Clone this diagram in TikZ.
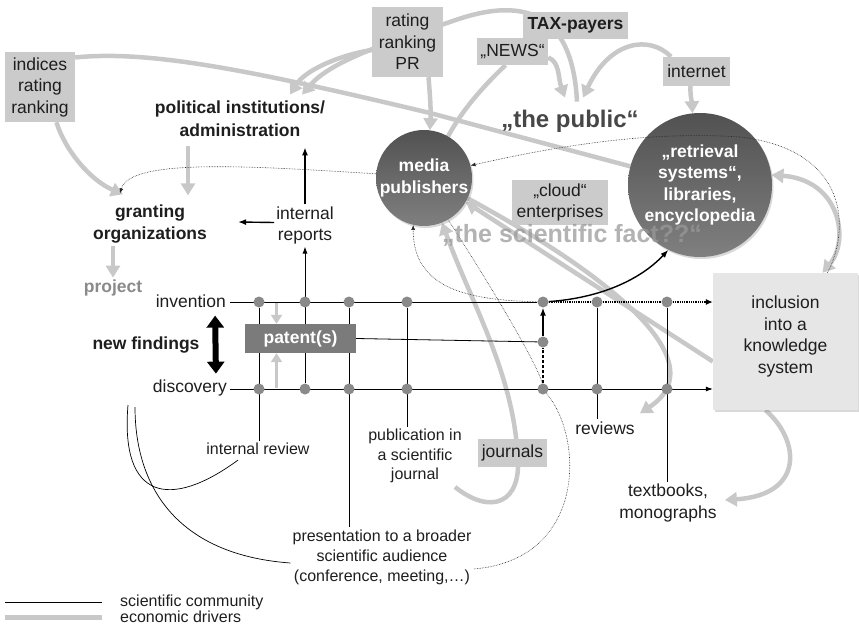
\documentclass[tikz,border=0pt]{standalone}
\usepackage{fontspec}
\setmainfont{Liberation Sans}
\usetikzlibrary{arrows.meta,shadows}

\definecolor{ecogray}{HTML}{C8C8C8}
\definecolor{boxgray}{HTML}{CBCBCB}
\definecolor{inclgray}{HTML}{E6E6E6}
\definecolor{dotgray}{HTML}{8A8A8A}
\definecolor{patgray}{HTML}{7B7B7B}
\definecolor{txtgray}{HTML}{1E1E1E}

\pgfdeclarelayer{eco}
\pgfdeclarelayer{sci}
\pgfdeclarelayer{top}
\pgfsetlayers{eco,sci,main,top}

\tikzset{
  txt/.style={font=\fontsize{17.5}{21.5}\selectfont, text=txtgray, align=center, inner sep=2pt},
  smalltxt/.style={txt, font=\fontsize{16}{19.5}\selectfont},
  boldtxt/.style={txt, font=\fontsize{17.5}{22.5}\selectfont\bfseries},
  graybox/.style={txt, fill=boxgray, inner sep=0pt},
  hub/.style={circle, inner sep=0pt, top color=black!68, bottom color=black!50,
    drop shadow={shadow xshift=1.5pt, shadow yshift=-2pt, opacity=.3},
    text=white, align=center, font=\fontsize{17.5}{21.5}\selectfont\bfseries},
  gridpt/.style={circle, fill=dotgray, minimum size=11pt, inner sep=0pt},
  econ/.style={draw=ecogray, line width=4.5pt},
  econarrow/.style={econ, -{Triangle[length=12pt,width=14pt]}},
  econsmall/.style={draw=ecogray, line width=3.5pt, -{Triangle[length=9pt,width=11pt]}},
  scline/.style={draw=black, line width=.8pt},
  scarrow/.style={scline, -{Latex[length=7pt,width=5pt]}},
  scthick/.style={draw=black, line width=1.4pt, -{Latex[length=8pt,width=6pt]}},
  scdotted/.style={draw=black!85, line width=.6pt, densely dotted, -{Latex[length=5pt,width=4pt]}},
}

\begin{document}
\begin{tikzpicture}[x=1pt,y=-1pt]
\useasboundingbox (0,0) rectangle (859,626);

    %% Gray boxes
    \node[graybox, minimum width=70pt, minimum height=70pt] (indices) at (40,87) {indices\\rating\\ranking};
    \node[graybox, minimum width=71pt, minimum height=70pt] (rating) at (407.5,42) {rating\\ranking\\PR};
    \node[graybox, font=\fontsize{17.5}{21}\selectfont\bfseries, minimum width=105pt, minimum height=27pt] (tax) at (575.5,25.5) {TAX-payers};
    \node[graybox, minimum width=71pt, minimum height=27pt] (news) at (512.5,51.5) {„NEWS“};
    \node[graybox, minimum width=67pt, minimum height=29pt] (internet) at (696.5,71.5) {internet};
    \node[graybox, minimum width=96pt, minimum height=45pt] (cloud) at (560,202.5) {„cloud“\\enterprises};
    \node[graybox, minimum width=69pt, minimum height=28pt] (journals) at (512.5,453) {journals};
    \node[graybox, fill=inclgray, minimum width=145pt, minimum height=137pt,
      drop shadow={shadow xshift=1.5pt, shadow yshift=-2pt, opacity=.3}] (inclusion) at (785.5,341.5) {inclusion\\into a\\knowledge\\system\\[-8pt]\mbox{}};
    \node[fill=patgray, text=white, font=\fontsize{17.5}{21}\selectfont\bfseries,
      minimum width=111pt, minimum height=29pt, inner sep=0pt] (patent) at (300.5,338.5) {patent(s)};

    %% Labels
    \node[boldtxt] (polit) at (240,118.5) {political institutions/\\administration};
    \node[boldtxt] (granting) at (150,224) {granting\\organizations};
    \node[txt] (reports) at (305,225.5) {internal\\reports};
    \node[boldtxt, text=dotgray] (project) at (113,288) {project};
    \node[txt, anchor=east] (invention) at (228,301) {invention};
    \node[boldtxt] (findings) at (146,345) {new findings};
    \node[txt, anchor=east] (discovery) at (229,388) {discovery};
    \node[smalltxt] (review) at (258,449) {internal review};
    \node[smalltxt] (publication) at (415,456) {publication in\\a scientific\\journal};
    \node[smalltxt, font=\fontsize{16}{20}\selectfont] (presentation) at (382,557) {presentation to a broader\\scientific audience\\(conference, meeting,…)};
    \node[txt] (reviews) at (605,428) {reviews};
    \node[txt] (textbooks) at (668,503) {textbooks,\\monographs};
    \node[font=\fontsize{24}{28}\selectfont\bfseries, text=black!72, inner sep=2pt] (public) at (570,121) {„the public“};

    %% Media and retrieval
    \node[hub, minimum size=96pt] (media) at (424,178) {media\\publishers};
    \node[hub, minimum size=144pt] (retrieval) at (700,185) {„retrieval\\systems“,\\libraries,\\encyclopedia};

    %% Invention / discovery lines
    \coordinate (inv) at (230,302);
    \coordinate (dis) at (230,389);
    \coordinate (jhook) at (455,487);
    \foreach \x [count=\n] in {259,305,349,407,543,597,667} {
        \node[gridpt] (i\n) at (\x,302) {};
        \node[gridpt] (d\n) at (\x,389) {};
    }
    \node[gridpt] (pt) at (543,342) {};

    %% Legend
    \node[smalltxt, anchor=west, font=\fontsize{16}{18}\selectfont] (legsci) at (118,602) {scientific community};
    \node[smalltxt, anchor=west, font=\fontsize{16}{18}\selectfont] (legeco) at (118,617) {economic drivers};

    \begin{pgfonlayer}{eco}
    % rankings
    \draw[econ] (indices.40) .. controls (150,50) and (250,70) .. (430,113) -- (retrieval.165);
    \draw[econarrow] (indices.295) .. controls (65,150) and (90,180) .. ([xshift=-27pt,yshift=8pt]granting.north);
    \draw[econarrow] ([yshift=-8pt]rating.west) .. controls (340,55) and (305,70) .. ([xshift=50pt,yshift=4pt]polit.north);
    \draw[econarrow] ([xshift=21pt]rating.south) .. controls (430,95) and (431,110) .. (media.83);

    % tax-payers and the public
    \draw[econarrow] ([xshift=7pt,yshift=6pt]public.north) .. controls (572,0) and (510,0) .. (450,22)
        .. controls (380,45) and (330,62) .. ([xshift=62pt,yshift=4pt]polit.north);
    \draw[econ] (media.60) .. controls (465,105) and (490,80) .. ([xshift=-7pt]news.south);
    \draw[econarrow] ([yshift=-6pt]news.east) .. controls (560,62) and (558,78) .. ([xshift=-5pt,yshift=10pt]public.north);
    \draw[econarrow] (internet.150) .. controls (650,35) and (610,40) .. ([xshift=13pt,yshift=10pt]public.north);
    \draw[econarrow] ([xshift=-6pt]internet.south) .. controls (690,95) and (692,103) .. (retrieval.96);

    % knowledge system
    \draw[econ, {Triangle[length=12pt,width=14pt]}-{Triangle[length=12pt,width=14pt]}]
        (retrieval.8) .. controls (840,180) and (850,240) .. ([xshift=37pt]inclusion.north);
    \draw[econarrow] ([yshift=-20pt]inclusion.west) -- (media.-30);
    \draw[econarrow] (media.-25) .. controls (600,270) and (720,360) .. ([xshift=35pt,yshift=6pt]reviews.north);
    \draw[econarrow] (jhook) .. controls (490,515) and (523,505) .. ([xshift=5pt]journals.center)
        .. controls (512,370) and (470,300) .. (media.-68);
    \draw[econarrow] ([xshift=-20pt]inclusion.south) .. controls (800,440) and (805,495) .. ([xshift=6pt,yshift=3pt]textbooks.east);

    % funding
    \draw[econarrow] ([xshift=-52pt,yshift=-8pt]polit.south) -- ([xshift=38pt,yshift=7pt]granting.north);
    \draw[econarrow] ([xshift=-37pt]granting.south) -- (project.north);
    \draw[econsmall] ([xshift=-24pt,yshift=22pt]patent.north) -- ([xshift=-24pt]patent.north);
    \draw[econsmall] ([xshift=-24pt,yshift=-35pt]patent.south) -- ([xshift=-24pt]patent.south);

    % legend
    \draw[econ, line width=5pt] ([xshift=-16pt]legeco.west) -- ++(-97,0);
    \end{pgfonlayer}

    \begin{pgfonlayer}{sci}
    % invention and discovery
    \draw[scline] (inv) -- (i5);
    \draw[scline, densely dotted, line width=1.2pt, -{Latex[length=7pt,width=6pt]}] (i5) -- (inclusion.west |- i5);
    \draw[scarrow] (dis) -- (inclusion.west |- dis);
    \draw[line width=6pt, {Triangle[length=12pt,width=17pt]}-{Triangle[length=12pt,width=17pt]}, shorten <=6pt, shorten >=4pt]
        ([xshift=-13pt]invention.south east) -- ([xshift=-13pt]discovery.north east);

    % patent(s)
    \draw[scline] (patent.east) -- (pt);
    \draw[scthick] (pt) -- (i5);
    \draw[scline, line width=1.4pt, densely dashed] (d5) -- (pt);

    % down to the outputs
    \draw[scline] (i1) -- (i1 |- review.north);
    \draw[scline] (i3) -- (i3 |- presentation.north);
    \draw[scline] (i4) -- (i4 |- publication.north);
    \draw[scline] (i6) -- (i6 |- reviews.north);
    \draw[scline] (i7) -- (i7 |- textbooks.north);

    % reports
    \draw[scarrow] (d2) -- (reports.south);
    \draw[scthick] (reports.north) -- ([xshift=65pt,yshift=-9pt]polit.south);
    \draw[scthick] ([yshift=3pt]reports.west) -- ([xshift=29pt,yshift=2pt]granting.east);

    % discovery to review and presentation
    \coordinate (dca) at (128,405);
    \coordinate (dcb) at (135,407);
    \draw[scline, line width=.7pt] (dca) .. controls (120,500) and (170,510) .. ([xshift=-20pt,yshift=-3pt]review.south);
    \draw[scline, line width=.7pt] (dcb) .. controls (135,490) and (180,555) .. ([yshift=-6pt]presentation.west);

    % into the retrieval systems
    \draw[scthick] (i5) .. controls (600,298) and (640,280) .. (retrieval.-116);

    % dotted feedback
    \draw[scdotted] (media.175) .. controls (250,166) and (130,158) .. ([xshift=-30pt,yshift=9pt]granting.north);
    \draw[scdotted] (i5) .. controls (470,300) and (413,290) .. (media.-103);
    \draw[scdotted, -] (media.-60) .. controls (500,300) and (540,370) .. (d5)
        .. controls (585,440) and (585,560) .. ([yshift=-12pt]presentation.east);

    % legend
    \draw[scline, line width=1pt] ([xshift=-16pt]legsci.west) -- ++(-97,0);
    \end{pgfonlayer}

    \begin{pgfonlayer}{top}
    \draw[scdotted] ([xshift=42pt]inclusion.north) .. controls (850,230) and (850,150) .. (740,137)
        .. controls (640,130) and (540,150) .. (media.15);
    \node[font=\fontsize{25}{29}\selectfont\bfseries, text=black!40, text opacity=.75] (fact) at (572,235) {„the scientific fact??“};
    \end{pgfonlayer}

\end{tikzpicture}
\end{document}
